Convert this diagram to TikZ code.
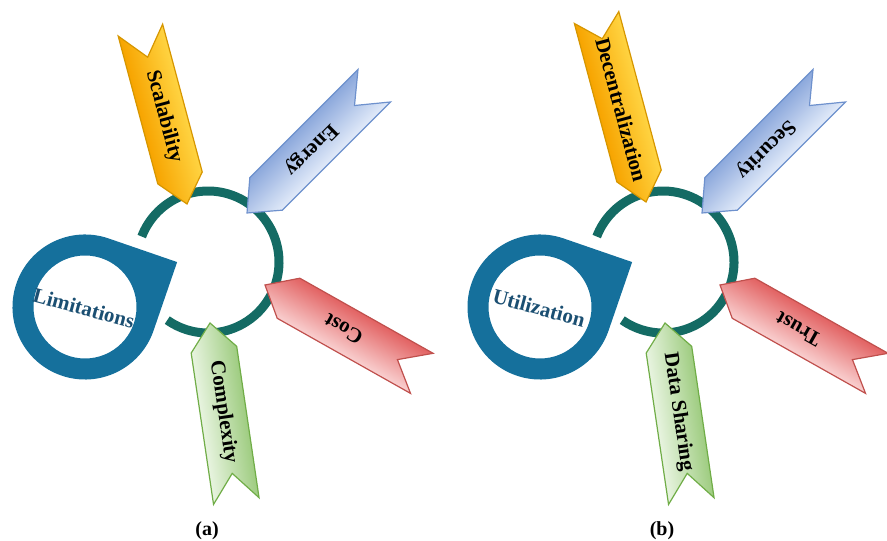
\documentclass[tikz,border=0pt]{standalone}
\usepackage{fontspec}
\setmainfont{Liberation Serif}
\usepackage{tikz}
\usetikzlibrary{positioning, calc}

\definecolor{ringteal}{RGB}{20,107,100}
\definecolor{dropblue}{RGB}{21,112,156}
\definecolor{droptext}{RGB}{27,79,114}
\definecolor{orangedark}{RGB}{247,164,0}
\definecolor{orangelight}{RGB}{255,212,66}
\definecolor{orangeline}{RGB}{214,150,0}
\definecolor{bluedark}{RGB}{140,168,220}
\definecolor{bluelight}{RGB}{226,235,249}
\definecolor{blueline}{RGB}{110,145,205}
\definecolor{reddark}{RGB}{226,98,98}
\definecolor{redlight}{RGB}{249,208,208}
\definecolor{redline}{RGB}{192,80,77}
\definecolor{greendark}{RGB}{158,204,128}
\definecolor{greenlight}{RGB}{232,244,224}
\definecolor{greenline}{RGB}{112,173,71}

\tikzset{
    ringline/.style={draw=ringteal, line width=4.5pt},
    dropshape/.style={fill=dropblue, even odd rule},
    droplabel/.style={font=\fontsize{10.5}{12}\selectfont\bfseries, text=droptext, inner sep=0pt},
    bandtext/.style={font=\fontsize{10.5}{12}\selectfont\bfseries, text=black, inner sep=0pt},
    orangeband/.style={draw=orangeline, top color=orangelight, bottom color=orangedark},
    blueband/.style={draw=blueline, top color=bluelight, bottom color=bluedark},
    redband/.style={draw=redline, top color=redlight, bottom color=reddark},
    greenband/.style={draw=greenline, top color=greenlight, bottom color=greendark},
}

% 矢羽: #1 名前, #2 先端, #3 向き, #4 長さ, #5 切込み, #6 色, #7 文字, #8 文字の向き
\newcommand{\ribbon}[8]{%
    \begin{scope}[transform canvas={shift={#2}, rotate=#3}]
        \draw[#6, line width=0.6pt] (0,0) -- (-27,23) -- (-#4,23) -- (-#4+#5,0)
            -- (-#4,-23) -- (-27,-23) -- cycle;
    \end{scope}
    \node[bandtext, rotate=#8] (#1) at ($#2+(#3+180:#4/2)$) {#7};
}

\begin{document}
\begin{tikzpicture}[x=0.5pt, y=0.5pt]
    \useasboundingbox (0,0) rectangle (887,540);

    % 輪と涙形の描画
    \foreach \dx/\p/\word in {0/a/Limitations, 455/b/Utilization} {
        \begin{scope}[shift={(\dx,0)}]
            \coordinate (ring-\p) at (208,278);
            \coordinate (drop-\p) at (85,233);
            \draw[ringline] ($(ring-\p)+(-125:71)$) arc[start angle=-125, end angle=159, radius=71];
            \fill[dropshape] ($(drop-\p)+(26:102.5)$) -- ($(drop-\p)+(71:72.5)$)
                arc[start angle=71, end angle=341, radius=72.5] -- cycle
                (drop-\p) circle[radius=51.5];
            \node[droplabel, rotate=-15] (word-\p) at (84,232) {\word};
            \node[font=\fontsize{10}{12}\selectfont\bfseries] (cap-\p) at (207,9) {(\p)};
        \end{scope}
    }

    % 矢羽の描画 (a)
    \ribbon{scal}{(187,336)}{-75}{180}{28}{orangeband}{Scalability}{-75}
    \ribbon{ener}{(247,327)}{225}{180}{28}{blueband}{Energy}{225}
    \ribbon{cost}{(265,255)}{150.6}{180}{28}{redband}{Cost}{150.6}
    \ribbon{comp}{(210,217)}{98.4}{180}{28}{greenband}{Complexity}{-81.6}

    % 矢羽の描画 (b)
    \ribbon{dece}{(646,338)}{-75}{191}{22}{orangeband}{Decentralization}{-75}
    \ribbon{secu}{(702,327)}{225}{180}{28}{blueband}{Security}{225}
    \ribbon{trus}{(720,255)}{150.6}{180}{28}{redband}{Trust}{150.6}
    \ribbon{shar}{(665,217)}{98.4}{180}{28}{greenband}{Data Sharing}{-81.6}
\end{tikzpicture}
\end{document}
